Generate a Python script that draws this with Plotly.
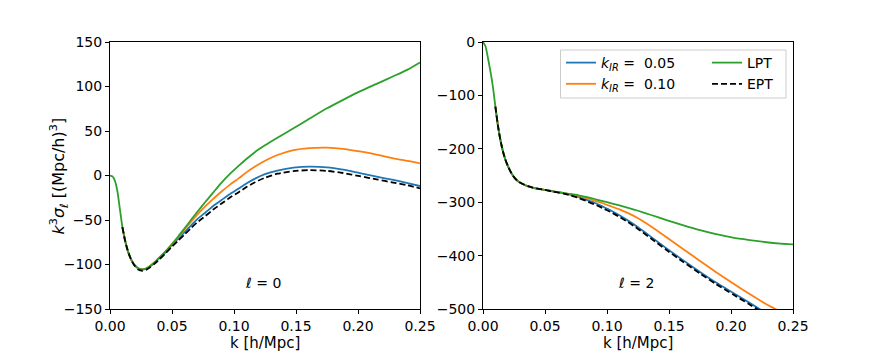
import plotly.graph_objects as go
from plotly.subplots import make_subplots

# shared k grid [h/Mpc]
k = [0.000, 0.002, 0.004, 0.006, 0.008, 0.010, 0.012, 0.014, 0.016, 0.018,
     0.020, 0.023, 0.026, 0.029, 0.032, 0.036, 0.040, 0.045, 0.050, 0.055,
     0.060, 0.065, 0.070, 0.077, 0.083, 0.090, 0.0965, 0.1035, 0.110, 0.117,
     0.125, 0.135, 0.148, 0.161, 0.175, 0.188, 0.2015, 0.215, 0.2285, 0.240,
     0.250]
# kIR / EPT curves start at k = 0.01
k_ir = k[5:]

# ell = 0
lpt_0 = [0, -1, -6, -18, -38, -58, -72, -83, -91, -97,
         -101, -104.5, -105.5, -104.5, -102, -97.5, -92, -85, -77, -68.5,
         -59.5, -50.5, -41.5, -29.5, -19.5, -8, 1.5, 10.5, 18.5, 26.5,
         34, 42.5, 53, 64, 75.5, 85, 94.5, 103, 111.5, 119,
         127]
kir05_0 = [-58, -72, -83, -91, -97,
           -101, -104.5, -105.8, -105, -102.5, -98, -92.5, -86, -78, -71,
           -64, -56.5, -49.5, -41.5, -34.5, -27.5, -21, -15, -9, -3.5,
           1.5, 5.5, 8.8, 10, 9.2, 6.5, 2.6, -1.3, -5, -8.5,
           -11.8]
kir10_0 = [-58, -72, -83, -91, -97,
           -101, -104.5, -105.5, -104.5, -102, -97.5, -92, -85, -77, -69.5,
           -61, -52.5, -44.5, -34.5, -26.5, -18, -10.5, -3.5, 3.5, 10,
           16.5, 23, 28.6, 30.8, 31.3, 30, 27, 23.5, 19.3, 16.5,
           13.7]
ept_0 = [-58, -72, -83, -91, -97,
         -101.5, -106, -107, -106, -103.5, -99, -94, -87, -80, -73,
         -66.5, -59.5, -53, -45.5, -38.5, -31.5, -25, -19, -13, -7.5,
         -2.5, 2, 5, 6, 5.2, 2.8, -0.8, -4.3, -8, -11,
         -14.4]

# ell = 2
lpt_2 = [0, -8, -30, -55, -84, -121, -156, -183, -204, -220,
         -232, -246, -256, -262, -266, -270, -272.5, -275, -277, -279,
         -281, -283, -284.5, -287, -290, -294, -298, -302, -306, -310.5,
         -316, -323.5, -333.5, -343, -352.5, -360, -366.5, -371, -375, -377.5,
         -379]
kir05_2 = [-121, -156, -183, -204, -220,
           -232, -246, -256, -262, -266, -270, -272.5, -275, -277, -279,
           -281, -283, -286, -290, -295, -301, -308, -316, -324.5, -334.5,
           -347, -364, -386.5, -408, -430.5, -450.5, -469.5, -488.5, -508, -524,
           -538]
kir10_2 = [-121, -156, -183, -204, -220,
           -232, -246, -256, -262, -266, -270, -272.5, -275, -277, -279,
           -281, -283, -285, -288, -292, -297, -302, -308, -313.5, -320.5,
           -330, -344.5, -365.5, -387, -410, -431, -452, -472, -491, -505,
           -517]
ept_2 = [-121, -156, -183, -204, -220,
         -232, -246, -256, -262, -266, -270, -272.5, -275, -277, -279.5,
         -281.5, -284, -287, -292, -297.5, -304, -311, -319, -327.5, -337.5,
         -350, -367, -389.5, -411, -433.5, -453.5, -472.5, -491.5, -511, -527,
         -541]

xticks = [0.00, 0.05, 0.10, 0.15, 0.20, 0.25]
yticks_0 = [-150, -100, -50, 0, 50, 100, 150]
yticks_2 = [-500, -400, -300, -200, -100, 0]

BLUE, ORANGE, GREEN = '#1f77b4', '#ff7f0e', '#2ca02c'
FONT = 'DejaVu Sans'
LW = 1.8

# the page body has an 8px margin, so the figure is drawn 8px in from the window edge
PAD = 8
W, H = 881 - PAD, 353 - PAD


def px(X):
    # window pixel -> paper x
    return (X - PAD) / W


def py(Y):
    # window pixel -> paper y
    return 1 - (Y - PAD) / H


fig = make_subplots(rows=1, cols=2)

panels = [(1, lpt_0, kir05_0, kir10_0, ept_0), (2, lpt_2, kir05_2, kir10_2, ept_2)]
for col, lpt, k05, k10, ept in panels:
    first = col == 1
    fig.add_trace(go.Scatter(x=k_ir, y=k05, mode='lines',
                             line=dict(color=BLUE, width=LW, shape='spline', smoothing=0.6),
                             name='<i>k</i><sub><i>IR</i></sub> =&nbsp; 0.05',
                             legend='legend', showlegend=first, legendrank=1), row=1, col=col)
    fig.add_trace(go.Scatter(x=k_ir, y=k10, mode='lines',
                             line=dict(color=ORANGE, width=LW, shape='spline', smoothing=0.6),
                             name='<i>k</i><sub><i>IR</i></sub> =&nbsp; 0.10',
                             legend='legend', showlegend=first, legendrank=2), row=1, col=col)
    fig.add_trace(go.Scatter(x=k, y=lpt, mode='lines',
                             line=dict(color=GREEN, width=LW, shape='spline', smoothing=0.6),
                             name='LPT', legend='legend2', showlegend=first, legendrank=3), row=1, col=col)
    fig.add_trace(go.Scatter(x=k_ir, y=ept, mode='lines',
                             line=dict(color='black', width=LW, dash='6px,3px', shape='spline', smoothing=0.6),
                             name='EPT', legend='legend2', showlegend=first, legendrank=4), row=1, col=col)

axis_style = dict(showline=True, linecolor='black', linewidth=1, mirror=True,
                  ticks='outside', ticklen=4, tickwidth=1, tickcolor='black',
                  showgrid=False, zeroline=False, automargin=False,
                  tickfont=dict(family=FONT, size=14, color='black'))

fig.update_xaxes(axis_style)
fig.update_yaxes(axis_style)
fig.update_xaxes(range=[0, 0.25], tickvals=xticks, tickformat='.2f')
fig.update_xaxes(domain=[px(110), px(420)], row=1, col=1)
fig.update_xaxes(domain=[px(483), px(793)], row=1, col=2)
fig.update_yaxes(domain=[py(309), py(42)])
fig.update_yaxes(range=[-150, 150], tickvals=yticks_0, row=1, col=1)
fig.update_yaxes(range=[-500, 0], tickvals=yticks_2, row=1, col=2)

# axis titles
fig.add_annotation(x=px(45), y=py(176), xref='paper', yref='paper', textangle=-90,
                   text='<i>k</i><sup>3</sup><i>σ</i><sub><i>ℓ</i></sub> [(Mpc/h)<sup>3</sup>]',
                   showarrow=False, font=dict(family=FONT, size=16, color='black'))
for xr in ['x domain', 'x2 domain']:
    fig.add_annotation(x=0.5, y=py(342.5), xref=xr, yref='paper', yanchor='middle',
                       text='k [h/Mpc]', showarrow=False,
                       font=dict(family=FONT, size=15, color='black'))

for xr, yr, lab in [('x domain', 'y domain', '<i>ℓ</i> = 0'), ('x2 domain', 'y2 domain', '<i>ℓ</i> = 2')]:
    fig.add_annotation(x=0.494, y=0.06, xref=xr, yref=yr, text=lab, showarrow=False,
                       font=dict(family=FONT, size=14, color='black'))

# legend frame
fig.add_shape(type='rect', xref='paper', yref='paper',
              x0=px(560.5), x1=px(786), y0=py(98), y1=py(50),
              line=dict(color='#cccccc', width=1), fillcolor='rgba(255,255,255,0.8)')

leg_common = dict(xanchor='left', yanchor='top', bgcolor='rgba(0,0,0,0)', borderwidth=0,
                  font=dict(family=FONT, size=14, color='black'), itemwidth=30, tracegroupgap=0)
fig.update_layout(
    width=W, height=H,
    margin=dict(l=0, r=0, t=0, b=0),
    plot_bgcolor='white', paper_bgcolor='white',
    font=dict(family=FONT, size=14, color='black'),
    legend=dict(x=px(561), y=py(47), **leg_common),
    legend2=dict(x=px(707), y=py(47), **leg_common),
)

fig.write_html('out.html')
